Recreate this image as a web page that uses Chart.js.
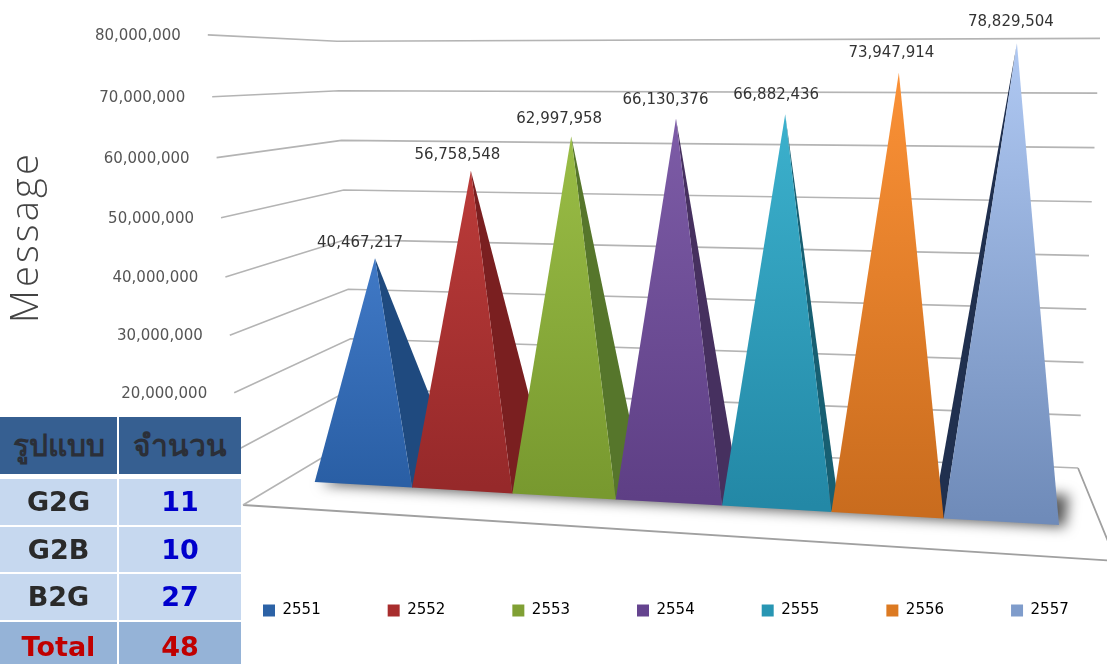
<!DOCTYPE html>
<html>
    <head>
        <meta charset="utf-8">
        <title>Message</title>
        <script src="https://cdn.jsdelivr.net/npm/chart.js@4.4.1"></script>
        <style>
            html, body {
                margin: 0;
                padding: 0;
                background: #fff;
                overflow: hidden;
            }
            #container {
                position: relative;
                width: 1107px;
                height: 664px;
                overflow: hidden;
            }
            #summary {
                position: absolute;
                left: 0;
                top: 417px;
                width: 241px;
                border-collapse: separate;
                border-spacing: 0;
                table-layout: fixed;
                font: bold 27px "DejaVu Sans", sans-serif;
                text-align: center;
                color: #2a2a2a;
            }
            #summary td, #summary th {
                padding: 0;
                border-bottom: 2px solid #fff;
                overflow: hidden;
            }
            #summary td:first-child, #summary th:first-child {
                width: 117px;
                border-right: 2px solid #fff;
            }
            #summary th { background: #365f91; height: 57px; border-bottom-width: 5px; color: #2b2f38; font-size: 30px; }
            #summary td { background: #c6d8ef; height: 45.5px; }
            #summary td.num { color: #0000cc; }
            #summary tr.total td { background: #95b3d7; color: #c00000; border-bottom: 0; height: 50px; }
        </style>
    </head>
    <body>
        <div id="container">
            <canvas id="vis"></canvas>
            <table id="summary"></table>
        </div>
        <script>
            const years = ['2551', '2552', '2553', '2554', '2555', '2556', '2557'];
            const messages = [40467217, 56758548, 62997958, 66130376, 66882436, 73947914, 78829504];

            const tableHeader = ['รูปแบบ', 'จำนวน'];
            const tableTypes = ['G2G', 'G2B', 'B2G', 'Total'];
            const tableCounts = [11, 10, 27, 48];

            const legendColors = ['#2c62a6', '#a82d2d', '#80a034', '#65448f', '#2896b3', '#dc7a22', '#7f9ccb'];
            const topColors = ['#4079c6', '#bb3b39', '#9abd46', '#7d5ca7', '#3cb1cd', '#fb9136', '#b0c9f3'];
            const bottomColors = ['#2a5fa5', '#96292a', '#78992f', '#5e3f85', '#2388a6', '#c96c1e', '#6f8bb9'];
            const sideColors = ['#1f4a7f', '#7a1f20', '#56762b', '#46305f', '#175f72', '#a85a18', '#20304f'];

            const labelFont = '15px "DejaVu Sans", sans-serif';

            // the plot is a tilted box, these bend the flat chart area into it
            const frontX = i => 363 + 97.33 * i + 1.5 * i * i;
            const frontY = x => 482 + 0.0579 * (x - 315);
            const apexX = i => 375 + 93.67 * i + 2.22 * i * i;
            const rise = i => 5.4 + 0.095 * i;
            const depthDx = x => 0.1 * (893 - x);
            const depthDy = -15;

            // gridline corners, v in millions
            const wallFront = v => [243 - 0.44 * v, 505 - 5.525 * v - 0.0044 * v * v];
            const wallBack = v => [355 - 0.225 * v, 438 - 4.96 * v];
            const wallRight = v => [1078 + 0.275 * v, 468 - 5.25 * v - 0.0015 * v * v];

            function poly(ctx, pts) {
                ctx.beginPath();
                pts.forEach((p, k) => k ? ctx.lineTo(p[0], p[1]) : ctx.moveTo(p[0], p[1]));
                ctx.closePath();
            }

            const pyramids = {
                id: 'pyramids',
                beforeDatasetDraw: () => false,
                beforeDatasetsDraw(chart) {
                    const ctx = chart.ctx;
                    const y = chart.scales.y;
                    const area = chart.chartArea;
                    const slot = x => (x - area.left) / area.width * years.length - 0.5;

                    // floor
                    ctx.save();
                    ctx.strokeStyle = '#a0a0a0';
                    ctx.lineWidth = 1.8;
                    ctx.beginPath();
                    ctx.moveTo(...wallFront(0));
                    ctx.lineTo(1116, 561);
                    ctx.lineTo(...wallRight(0));
                    ctx.stroke();

                    // gridlines and their labels
                    ctx.font = labelFont;
                    ctx.textAlign = 'right';
                    ctx.textBaseline = 'middle';
                    y.ticks.forEach(tick => {
                        const v = tick.value / 1e6;
                        const a = wallFront(v);
                        ctx.strokeStyle = '#b4b4b4';
                        ctx.lineWidth = 1.6;
                        ctx.beginPath();
                        ctx.moveTo(a[0], a[1]);
                        ctx.lineTo(...wallBack(v));
                        ctx.lineTo(...wallRight(v));
                        ctx.stroke();
                        ctx.fillStyle = '#555';
                        ctx.fillText(tick.label, a[0] - 27, a[1] + 1);
                    });

                    const bars = chart.getDatasetMeta(0).data.map(el => {
                        const i = slot(el.x);
                        const lx = frontX(slot(el.x - el.width / 2));
                        const rx = frontX(slot(el.x + el.width / 2));
                        const v = y.getValueForPixel(el.y) / 1e6;
                        const centre = frontY((lx + rx) / 2) - 8;
                        return {
                            left: [lx, frontY(lx)],
                            right: [rx, frontY(rx)],
                            apex: [apexX(i), centre - v * rise(i)],
                            i
                        };
                    });

                    // soft shadow under the row of pyramids, the shape itself stays off the canvas
                    ctx.save();
                    ctx.shadowColor = 'rgba(0,0,0,0.65)';
                    ctx.shadowBlur = 13;
                    ctx.shadowOffsetX = 2006;
                    ctx.shadowOffsetY = 2;
                    ctx.fillStyle = '#666';
                    const first = bars[0];
                    const last = bars[bars.length - 1];
                    ctx.translate(-2000, 0);
                    poly(ctx, [first.left, last.right, [last.right[0] + 4, last.right[1] - 32], [first.left[0] + 20, first.left[1] - 12]]);
                    ctx.fill();
                    ctx.restore();

                    // side faces go first so that every front face sits over them
                    bars.forEach((b, k) => {
                        ctx.fillStyle = sideColors[k];
                        const dr = depthDx(b.right[0]);
                        const dl = depthDx(b.left[0]);
                        if (dr > 0) {
                            poly(ctx, [b.apex, b.right, [b.right[0] + dr, b.right[1] + depthDy]]);
                            ctx.fill();
                        } else if (dl < 0) {
                            poly(ctx, [b.apex, b.left, [b.left[0] + dl * 1.7, b.left[1] + depthDy]]);
                            ctx.fill();
                        }
                    });

                    bars.forEach((b, k) => {
                        const g = ctx.createLinearGradient(0, b.apex[1], 0, b.left[1]);
                        g.addColorStop(0, topColors[k]);
                        g.addColorStop(1, bottomColors[k]);
                        ctx.fillStyle = g;
                        poly(ctx, [b.apex, b.left, b.right]);
                        ctx.fill();
                    });

                    // value labels
                    ctx.textAlign = 'center';
                    ctx.fillStyle = '#333';
                    bars.forEach((b, k) => {
                        ctx.fillText(messages[k].toLocaleString('en-US'), b.apex[0] - 15 + 1.5 * b.i, b.apex[1] - 15 - b.i);
                    });

                    // axis title
                    ctx.translate(38, 237);
                    ctx.rotate(-Math.PI / 2);
                    ctx.font = '300 38px "Open Sans", sans-serif';
                    ctx.letterSpacing = '3.2px';
                    ctx.textBaseline = 'alphabetic';
                    ctx.fillStyle = '#444';
                    ctx.fillText('Message', 0, 0);
                    ctx.restore();
                }
            };

            new Chart(document.getElementById('vis'), {
                type: 'bar',
                data: {
                    labels: years,
                    datasets: [{
                        label: 'Message',
                        data: messages,
                        backgroundColor: legendColors,
                        categoryPercentage: 1,
                        barPercentage: 1
                    }]
                },
                options: {
                    responsive: true,
                    maintainAspectRatio: false,
                    animation: false,
                    devicePixelRatio: 1,
                    layout: {
                        padding: { left: 196, right: -60, top: 0, bottom: 36 }
                    },
                    scales: {
                        x: { display: false },
                        y: {
                            display: false,
                            min: 0,
                            max: 80000000,
                            ticks: {
                                stepSize: 10000000,
                                callback: value => value.toLocaleString('en-US')
                            }
                        }
                    },
                    plugins: {
                        tooltip: { enabled: false },
                        legend: {
                            position: 'bottom',
                            align: 'start',
                            labels: {
                                boxWidth: 12,
                                boxHeight: 12,
                                padding: 67,
                                color: '#555',
                                font: { family: '"DejaVu Sans", sans-serif', size: 15 },
                                generateLabels: chart => chart.data.labels.map((label, k) => ({
                                    text: label,
                                    fillStyle: legendColors[k],
                                    strokeStyle: legendColors[k],
                                    lineWidth: 0,
                                    index: k
                                }))
                            }
                        }
                    }
                },
                plugins: [pyramids]
            });

            let rows = '<tr>' + tableHeader.map(h => `<th>${h}</th>`).join('') + '</tr>';
            tableTypes.forEach((type, k) => {
                const cls = type === 'Total' ? ' class="total"' : '';
                rows += `<tr${cls}><td>${type}</td><td class="num">${tableCounts[k]}</td></tr>`;
            });
            document.getElementById('summary').innerHTML = rows;
        </script>
    </body>
</html>
